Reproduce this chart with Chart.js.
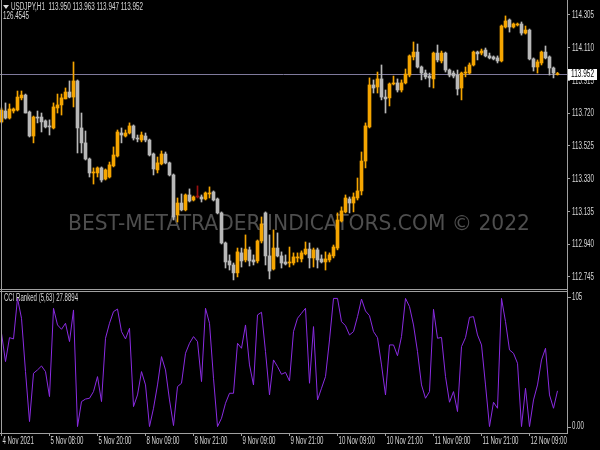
<!DOCTYPE html>
<html>
<head>
<meta charset="utf-8">
<script src="https://cdn.jsdelivr.net/npm/chart.js@4.4.1/dist/chart.umd.min.js"></script>
<style>
html,body{margin:0;padding:0;background:#000;}
#marco{position:relative;width:600px;height:450px;background:#000;overflow:hidden;}
#precio{position:absolute;left:0;top:0;}
#indicador{position:absolute;left:0;top:290px;}
</style>
</head>
<body>
<div id="marco">
<canvas id="precio" width="600" height="290"></canvas>
<canvas id="indicador" width="600" height="160"></canvas>
</div>
<script>
// datos de las velas H1 (USDJPY)
const aperturas = [
113.668,113.733,113.691,113.733,113.739,113.811,113.828,113.727,113.584,113.697,
113.697,113.674,113.644,113.632,113.751,113.769,113.805,113.846,113.816,113.912,
113.632,113.543,113.447,113.364,113.364,113.394,113.328,113.340,113.406,113.465,
113.602,113.584,113.602,113.644,113.572,113.560,113.584,113.560,113.477,113.382,
113.418,113.477,113.424,113.352,113.114,113.185,113.144,113.233,113.203,113.221,
113.221,113.209,113.239,113.251,113.209,113.126,112.947,112.840,112.816,112.769,
112.888,112.846,112.906,112.846,112.840,112.959,113.126,112.870,112.792,112.917,
112.870,112.834,112.828,112.828,112.858,112.852,112.882,112.911,112.858,112.906,
112.852,112.834,112.846,112.870,112.917,113.078,113.132,113.209,113.185,113.215,
113.257,113.435,113.638,113.888,113.876,113.924,113.816,113.811,113.894,113.900,
113.858,113.900,113.947,114.055,114.084,113.995,113.959,113.941,113.924,114.078,
114.031,114.078,113.977,113.959,113.947,113.870,113.959,113.959,114.007,114.084,
114.078,114.096,114.061,114.055,114.049,114.031,114.233,114.275,114.233,114.245,
114.251,114.197,114.215,114.043,113.995,114.019,114.084,114.055,113.989,113.950];
const maximos = [
113.751,113.781,113.775,113.751,113.852,113.852,113.834,113.733,113.703,113.733,
113.721,113.680,113.680,113.781,113.834,113.834,113.870,113.912,114.025,113.918,
113.721,113.614,113.453,113.394,113.400,113.400,113.388,113.429,113.519,113.620,
113.632,113.620,113.662,113.650,113.590,113.608,113.602,113.566,113.483,113.459,
113.495,113.489,113.429,113.358,113.215,113.239,113.239,113.269,113.227,113.287,
113.233,113.251,113.281,113.257,113.215,113.132,112.953,112.876,112.828,112.917,
112.917,112.995,112.923,112.876,112.965,113.102,113.132,112.995,113.025,113.007,
112.894,112.876,112.923,112.888,112.888,112.900,112.953,112.947,112.917,112.917,
112.876,112.894,112.888,112.935,113.126,113.162,113.233,113.221,113.245,113.334,
113.489,113.662,113.930,113.918,113.965,114.007,113.858,113.900,113.941,113.924,
113.918,113.983,114.067,114.144,114.132,114.001,113.977,113.959,114.084,114.126,
114.090,114.084,113.983,113.971,113.977,113.965,113.995,114.019,114.090,114.090,
114.102,114.108,114.078,114.061,114.061,114.245,114.299,114.281,114.257,114.257,
114.263,114.239,114.221,114.049,114.037,114.090,114.120,114.061,113.995,113.963];
const minimos = [
113.662,113.685,113.685,113.721,113.733,113.799,113.721,113.578,113.543,113.662,
113.608,113.632,113.590,113.626,113.721,113.709,113.805,113.811,113.757,113.483,
113.483,113.441,113.340,113.298,113.340,113.310,113.322,113.334,113.400,113.459,
113.543,113.578,113.596,113.560,113.549,113.549,113.549,113.465,113.352,113.364,
113.412,113.418,113.346,113.084,113.072,113.138,113.138,113.191,113.197,113.215,
113.191,113.203,113.215,113.197,113.120,112.941,112.798,112.786,112.727,112.745,
112.804,112.834,112.810,112.816,112.828,112.947,112.816,112.733,112.786,112.864,
112.798,112.816,112.804,112.816,112.834,112.834,112.876,112.798,112.804,112.798,
112.828,112.786,112.834,112.858,112.906,113.072,113.126,113.126,113.132,113.203,
113.233,113.394,113.632,113.840,113.840,113.799,113.721,113.763,113.888,113.846,
113.846,113.894,113.936,114.037,113.989,113.918,113.924,113.876,113.870,114.025,
114.019,113.965,113.936,113.930,113.828,113.799,113.936,113.953,114.001,114.037,
114.067,114.055,114.043,114.037,114.019,114.025,114.227,114.203,114.227,114.239,
114.185,114.191,114.037,113.971,113.959,114.007,114.043,113.947,113.930,113.947];
const cierres = [
113.739,113.691,113.745,113.745,113.816,113.828,113.721,113.584,113.697,113.691,
113.668,113.638,113.638,113.757,113.769,113.811,113.846,113.816,113.912,113.632,
113.543,113.447,113.364,113.370,113.394,113.322,113.382,113.412,113.471,113.608,
113.590,113.602,113.644,113.572,113.566,113.590,113.560,113.471,113.388,113.424,
113.477,113.424,113.352,113.102,113.185,113.144,113.233,113.197,113.221,113.221,
113.209,113.245,113.245,113.203,113.126,112.947,112.834,112.816,112.769,112.894,
112.840,112.911,112.840,112.834,112.959,113.060,112.870,112.780,112.917,112.870,
112.828,112.822,112.834,112.864,112.864,112.888,112.911,112.858,112.906,112.846,
112.834,112.852,112.876,112.923,113.084,113.138,113.215,113.185,113.221,113.257,
113.435,113.644,113.888,113.870,113.924,113.816,113.805,113.894,113.900,113.858,
113.900,113.953,114.061,114.084,113.995,113.959,113.936,113.930,114.078,114.037,
114.078,113.977,113.947,113.941,113.864,113.959,113.965,114.007,114.084,114.073,
114.090,114.061,114.049,114.043,114.031,114.239,114.269,114.233,114.251,114.251,
114.197,114.215,114.043,113.995,114.025,114.084,114.049,113.989,113.959,113.952];
// indicador CCI Ranked (5,63)
const cciValores = [
72.8,50.7,69.4,68.4,100,84.5,42.9,3.9,41.6,44.2,
47.3,42.9,23.4,92.3,79.3,75.9,80.6,66.3,91.0,0,
19.5,21.5,22.1,27.3,39.0,19.5,68.9,80.6,89.7,91.7,
74.1,68.4,76.7,15.6,24.7,42.9,32.5,0,14.3,32.5,
54.6,44.2,20.8,0.8,31.2,33.8,57.2,65.0,70.2,66.3,
35.1,92.3,80.6,37.7,0,6.5,18.2,26.0,26.0,65.0,
61.1,79.3,48.1,32.5,87.1,89.2,58.5,24.7,52.0,46.8,
40.8,42.3,35.6,74.1,84.5,88.4,92.3,33.8,78.0,20.8,
29.9,39.0,67.6,100,100,81.9,78.7,71.5,74.1,85.8,
99.5,90.2,86.5,74.1,69.4,48.1,24.7,63.7,63.7,55.3,
70.2,100,93.6,79.3,58.5,32.5,22.1,27.3,91.5,68.9,
69.6,39.0,19.0,27.3,11.7,62.4,69.4,85.2,85.8,71.5,
63.7,32.5,0,19.0,14.3,100,81.9,59.8,57.2,49.4,
0,29.9,0,20.8,32.5,52.0,61.1,24.7,14.3,27.8894];

const preciosEje = [114.305,114.110,113.915,113.720,113.525,113.330,113.135,112.940,112.745];
const horasPos = [0,12,24,36,48,60,72,84,96,108,120,132];
const horasTexto = ['4 Nov 2021','5 Nov 08:00','5 Nov 20:00','8 Nov 09:00','8 Nov 21:00','9 Nov 09:00',
    '9 Nov 21:00','10 Nov 09:00','10 Nov 21:00','11 Nov 09:00','11 Nov 21:00','12 Nov 09:00'];
const cciEjeValores = [105, 0];
const cciEjeTexto = ['105', '0.00'];
const precioActual = 113.952;
const titulo = 'USDJPY,H1  113.950 113.963 113.947 113.952';
const subtitulo = '126.4545';
const cciTitulo = 'CCI Ranked (5,63) 27.8894';
const marcaAgua = 'BEST-METATRADER-INDICATORS.COM \u00A9 2022';

const fuente = "'Liberation Sans', 'DejaVu Sans', sans-serif";
const colorSube = '#f5a500';
const colorBaja = '#b8b8b8';
const colorDoji = '#9a1010';
const colorMarco = '#a0a0a0';
const colorTexto = '#d8d8d8';
const tamTexto = 10;

const indices = cierres.map((c, i) => i);
const colores = indices.map(i => cierres[i] > aperturas[i] ? colorSube : (cierres[i] < aperturas[i] ? colorBaja : colorDoji));
const xMin = -0.375, xMax = 141.375;

let encoge = null; // factor horizontal para imitar la letra estrecha de MT4
function factor(ctx) {
    if (encoge === null) {
        ctx.save();
        ctx.font = tamTexto + 'px ' + fuente;
        encoge = 33 / ctx.measureText('5 Nov 08:00').width;
        ctx.restore();
    }
    return encoge;
}
// escribe un texto con ancho fijo (o con el factor comun si ancho es null)
function texto(ctx, txt, x, y, ancho, color, size, fam) {
    ctx.save();
    ctx.font = size + 'px ' + (fam || fuente);
    const w = ctx.measureText(txt).width;
    const sx = ancho ? ancho / w : factor(ctx);
    ctx.translate(x, y);
    ctx.scale(sx, 1);
    ctx.fillStyle = color;
    ctx.textBaseline = 'middle';
    ctx.textAlign = 'left';
    ctx.fillText(txt, 0, 0);
    ctx.restore();
}
function linea(ctx, x1, y1, x2, y2, color) {
    ctx.save();
    ctx.strokeStyle = color;
    ctx.lineWidth = 1;
    ctx.beginPath();
    ctx.moveTo(x1, y1);
    ctx.lineTo(x2, y2);
    ctx.stroke();
    ctx.restore();
}

const pluginPrecio = {
    id: 'pluginPrecio',
    beforeDraw(chart) {
        chart.ctx.fillStyle = '#000';
        chart.ctx.fillRect(0, 0, chart.width, chart.height);
    },
    beforeDatasetsDraw(chart) {
        const ctx = chart.ctx, a = chart.chartArea;
        texto(ctx, marcaAgua, 68, 224, 462, '#4e4e4e', 22, "'DejaVu Sans', sans-serif");
        const py = Math.round(chart.scales.y.getPixelForValue(precioActual)) + 0.5;
        linea(ctx, a.left, py, a.right, py, '#7f7a9c');
    },
    afterDraw(chart) {
        const ctx = chart.ctx, y = chart.scales.y;
        linea(ctx, 1.5, 0, 1.5, chart.height, colorMarco);
        linea(ctx, 567.5, 0, 567.5, chart.height, colorMarco);
        linea(ctx, 0, 289.5, 568, 289.5, colorMarco);
        // etiquetas del eje de precios
        y.ticks.forEach(t => {
            texto(ctx, t.value.toFixed(3), 572, y.getPixelForValue(t.value) + 0.5, 22, colorTexto, tamTexto);
        });
        // titulo
        ctx.save();
        ctx.fillStyle = colorTexto;
        ctx.beginPath();
        ctx.moveTo(3, 5); ctx.lineTo(9, 5); ctx.lineTo(6, 9); ctx.closePath();
        ctx.fill();
        ctx.restore();
        texto(ctx, titulo, 11, 7.5, 132, colorTexto, tamTexto);
        texto(ctx, subtitulo, 3, 16.5, 26, colorTexto, tamTexto);
        // caja del precio actual
        const py = Math.round(y.getPixelForValue(precioActual));
        ctx.fillStyle = '#ffffff';
        ctx.fillRect(568, py - 5, 29, 11);
        texto(ctx, precioActual.toFixed(3), 571, py + 0.5, 23, '#000000', tamTexto);
    }
};

const pluginCci = {
    id: 'pluginCci',
    beforeDraw(chart) {
        chart.ctx.fillStyle = '#000';
        chart.ctx.fillRect(0, 0, chart.width, chart.height);
    },
    afterDraw(chart) {
        const ctx = chart.ctx, a = chart.chartArea, y = chart.scales.y, x = chart.scales.x;
        linea(ctx, 1.5, 0, 1.5, a.bottom, colorMarco);
        linea(ctx, 567.5, 0, 567.5, a.bottom, colorMarco);
        linea(ctx, 0, 1.5, 568, 1.5, colorMarco);
        texto(ctx, cciTitulo, 4, 8, 74, colorTexto, tamTexto);
        cciEjeValores.forEach((v, k) => {
            let py = y.getPixelForValue(v);
            py = Math.min(Math.max(py, a.top + 5), a.bottom - 4);
            linea(ctx, 568, Math.round(py) + 0.5, 571, Math.round(py) + 0.5, colorMarco);
            texto(ctx, cciEjeTexto[k], 572, py, null, colorTexto, tamTexto);
        });
        // etiquetas de tiempo
        x.ticks.forEach(t => {
            texto(ctx, horasTexto[horasPos.indexOf(t.value)], x.getPixelForValue(t.value) + 1, a.bottom + 8.5, null, colorTexto, tamTexto);
        });
    }
};

new Chart(document.getElementById('precio').getContext('2d'), {
    type: 'bar',
    data: {
        datasets: [{
            label: 'cuerpo',
            data: indices.map(i => ({ x: i, y: [aperturas[i], cierres[i]] })),
            backgroundColor: colores,
            borderWidth: 0,
            barThickness: 3,
            minBarLength: 1,
            grouped: false,
            order: 0
        }, {
            label: 'mecha',
            data: indices.map(i => ({ x: i, y: [minimos[i], maximos[i]] })),
            backgroundColor: colores,
            borderWidth: 0,
            barThickness: 1,
            grouped: false,
            order: 1
        }]
    },
    options: {
        responsive: false,
        animation: false,
        devicePixelRatio: 1,
        layout: { padding: { top: 2, bottom: 1, left: 0, right: 0 } },
        plugins: { legend: { display: false }, tooltip: { enabled: false } },
        scales: {
            x: { type: 'linear', min: xMin, max: xMax, offset: false, display: false, grid: { offset: false } },
            y: {
                position: 'right',
                min: 112.673,
                max: 114.382,
                afterBuildTicks: s => { s.ticks = preciosEje.map(v => ({ value: v })); },
                afterFit: s => { s.width = 33; },
                ticks: { display: false, autoSkip: false },
                grid: { drawOnChartArea: false, drawTicks: true, tickLength: 3, color: colorMarco },
                border: { display: true, color: colorMarco }
            }
        }
    },
    plugins: [pluginPrecio]
});

new Chart(document.getElementById('indicador').getContext('2d'), {
    type: 'line',
    data: {
        datasets: [{
            data: indices.map(i => ({ x: i, y: cciValores[i] })),
            borderColor: '#8a2be2',
            borderWidth: 1,
            pointRadius: 0,
            tension: 0
        }]
    },
    options: {
        responsive: false,
        animation: false,
        devicePixelRatio: 1,
        layout: { padding: { top: 2, bottom: 0, left: 0, right: 33 } },
        plugins: { legend: { display: false }, tooltip: { enabled: false } },
        scales: {
            x: {
                type: 'linear', min: xMin, max: xMax, offset: false,
                afterBuildTicks: s => { s.ticks = horasPos.map(v => ({ value: v })); },
                afterFit: s => { s.height = 17; },
                ticks: { display: false, autoSkip: false, maxRotation: 0 },
                grid: { drawOnChartArea: false, drawTicks: true, tickLength: 3, color: colorMarco, offset: false },
                border: { display: true, color: colorMarco }
            },
            y: { display: false, min: -5, max: 105 }
        }
    },
    plugins: [pluginCci]
});
</script>
</body>
</html>
